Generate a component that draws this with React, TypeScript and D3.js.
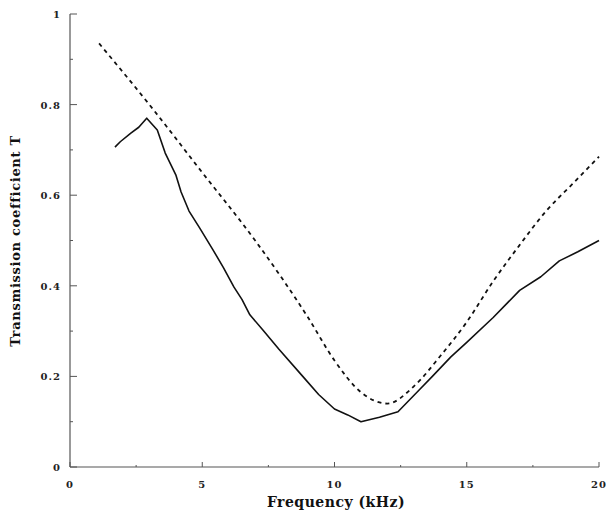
import React from "react";
import * as d3 from "d3";

const freqSolid = [1.7, 1.9, 2.3, 2.6, 2.9, 3.3, 3.6, 4.0, 4.2, 4.5, 4.9, 5.4, 5.8, 6.2, 6.5, 6.8, 7.3, 7.9, 8.8, 9.4, 10.0, 10.5, 11.0, 11.7, 12.4, 13.2, 13.7, 14.4, 15.0, 16.0, 17.0, 17.8, 18.5, 19.2, 20.0];
const tSolid = [0.706, 0.718, 0.737, 0.75, 0.77, 0.744, 0.693, 0.645, 0.607, 0.565, 0.528, 0.48, 0.44, 0.397, 0.37, 0.336, 0.302, 0.26, 0.2, 0.16, 0.128, 0.115, 0.1, 0.11, 0.122, 0.17, 0.2, 0.243, 0.275, 0.33, 0.39, 0.42, 0.455, 0.475, 0.5];

const freqDashed = [1.1, 3.0, 5.0, 7.0, 9.0, 10.0, 11.0, 12.0, 13.0, 14.0, 15.0, 16.0, 17.0, 18.0, 19.0, 20.0];
const tDashed = [0.935, 0.8, 0.65, 0.5, 0.33, 0.235, 0.165, 0.14, 0.178, 0.245, 0.32, 0.41, 0.49, 0.565, 0.625, 0.685];

const xTicks = [0, 5, 10, 15, 20];
const xMinorTicks = [2.5, 7.5, 12.5, 17.5];
const yTicks = [0, 0.2, 0.4, 0.6, 0.8, 1];
const yTickLabels = ["0", "0.2", "0.4", "0.6", "0.8", "1"];
const yMinorTicks = [0.1, 0.3, 0.5, 0.7, 0.9];

const xTitle = "Frequency (kHz)";
const yTitle = "Transmission coefficient T";

export default function App() {
  const W = 606, H = 518;
  const x = d3.scaleLinear().domain([0, 20]).range([70, 599]);
  const y = d3.scaleLinear().domain([0, 1]).range([467, 14]);
  const line = d3.line<[number, number]>().x(d => x(d[0])).y(d => y(d[1]));
  const smooth = d3.line<[number, number]>().x(d => x(d[0])).y(d => y(d[1])).curve(d3.curveMonotoneX);
  const solidPts = freqSolid.map((f, i) => [f, tSolid[i]] as [number, number]);
  const dashPts = freqDashed.map((f, i) => [f, tDashed[i]] as [number, number]);
  const font = "'DejaVu Serif', 'Liberation Serif', serif";
  const axisColor = "#555";
  return (
    <svg width={W} height={H} style={{ position: "absolute", left: 0, top: 0, background: "#fff" }}>
      <rect x={0} y={0} width={W} height={H} fill="#fff" />
      <line x1={x(0)} x2={x(0)} y1={y(0)} y2={y(1)} stroke={axisColor} strokeWidth={1.2} />
      <line x1={x(0)} x2={x(20)} y1={y(0)} y2={y(0)} stroke={axisColor} strokeWidth={1.2} />
      {yTicks.map((t, i) => (
        <g key={"yt" + i}>
          <line x1={x(0)} x2={x(0) + 7} y1={y(t)} y2={y(t)} stroke={axisColor} strokeWidth={1} />
          <text x={61} y={y(t) + 4} textAnchor="end" fontFamily={font} fontWeight="bold" fontSize={10} letterSpacing={1} fill="#222">{yTickLabels[i]}</text>
        </g>
      ))}
      {yMinorTicks.map((t, i) => (
        <line key={"ym" + i} x1={x(0)} x2={x(0) + 3} y1={y(t)} y2={y(t)} stroke={axisColor} strokeWidth={1} />
      ))}
      {xTicks.map((t, i) => (
        <g key={"xt" + i}>
          <line x1={x(t)} x2={x(t)} y1={y(0)} y2={y(0) - 5} stroke={axisColor} strokeWidth={1} />
          <text x={x(t)} y={488} textAnchor="middle" fontFamily={font} fontWeight="bold" fontSize={10} letterSpacing={1} fill="#222">{String(t)}</text>
        </g>
      ))}
      {xMinorTicks.map((t, i) => (
        <line key={"xm" + i} x1={x(t)} x2={x(t)} y1={y(0)} y2={y(0) - 2} stroke={axisColor} strokeWidth={1} />
      ))}
      <text x={336} y={507} textAnchor="middle" fontFamily={font} fontWeight="bold" fontSize={14} letterSpacing={0.5} fill="#111">{xTitle}</text>
      <text transform={`translate(20,241) rotate(-90)`} textAnchor="middle" fontFamily={font} fontWeight="bold" fontSize={13} letterSpacing={0.7} fill="#111">{yTitle}</text>
      <path d={smooth(dashPts) || ""} fill="none" stroke="#111" strokeWidth={1.8} strokeDasharray="4,4" />
      <path d={line(solidPts) || ""} fill="none" stroke="#111" strokeWidth={1.6} strokeLinejoin="round" />
    </svg>
  );
}
